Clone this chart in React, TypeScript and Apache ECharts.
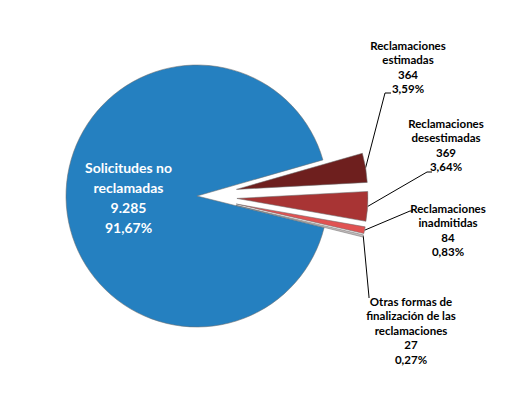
import React, { useEffect, useRef } from "react";
import * as echarts from "echarts";

const categories = [
  "Reclamaciones\nestimadas",
  "Reclamaciones\ndesestimadas",
  "Reclamaciones\ninadmitidas",
  "Otras formas de\nfinalización de las\nreclamaciones",
  "Solicitudes no\nreclamadas",
];
const values = [364, 369, 84, 27, 9285];
const colors = ["#6E1F1E", "#A83434", "#E05252", "#C4BCBC", "#2580C0"];
const exploded = [true, true, true, true, false];

// label placement (centre of text block) and leader-line bend/end points
const labelCenters: number[][] = [
  [408, 67],
  [446, 145],
  [448, 230],
  [411, 330],
];
const leaderPoints: number[][][] = [
  [[385, 93], [391, 93]],
  [[427, 172], [432, 172]],
  [[410, 211], [413, 211]],
  [[369, 297], [369, 298]],
];

const CENTER = [197, 196];
const RADIUS = 131;
const OFFSET = 40;

function fmtInt(v: number) {
  return String(v).replace(/\B(?=(\d{3})+(?!\d))/g, ".");
}
function fmtPct(v: number, total: number) {
  return ((v / total) * 100).toFixed(2).replace(".", ",") + "%";
}

export default function App() {
  const ref = useRef<HTMLDivElement>(null);
  useEffect(() => {
    if (!ref.current) return;
    const chart = echarts.init(ref.current, undefined, { renderer: "svg" });
    const total = values.reduce((a, b) => a + b, 0);
    const data = values.map((v, i) => ({
      name: categories[i],
      value: v,
      selected: exploded[i],
      itemStyle: { color: colors[i] },
      label: { show: i === 4 },
      labelLine: { show: false },
    }));
    chart.setOption({
      animation: false,
      series: [
        {
          type: "pie",
          center: CENTER,
          radius: RADIUS,
          startAngle: 16,
          clockwise: true,
          selectedMode: "multiple",
          selectedOffset: OFFSET,
          avoidLabelOverlap: false,
          emphasis: { disabled: true },
          itemStyle: {
            borderColor: "rgba(110,110,110,0.55)",
            borderWidth: 1,
          },
          label: {
            position: "inside",
            fontFamily: "Lato",
            color: "#fff",
            fontSize: 14,
            fontWeight: "bold",
            lineHeight: 20,
            align: "center",
            formatter: (p: any) =>
              `${p.name}\n${fmtInt(p.value)}\n${p.percent
                .toFixed(2)
                .replace(".", ",")}%`,
          },
          data,
        },
      ],
    });

    // leader lines + labels for exploded slices, anchored on the library's slice layout
    const seriesData = (chart as any).getModel().getSeriesByIndex(0).getData();
    const graphics: any[] = [];
    for (let i = 0; i < 4; i++) {
      const lay = seriesData.getItemLayout(i);
      const mid = (lay.startAngle + lay.endAngle) / 2;
      const rr = lay.r + OFFSET;
      const start = [lay.cx + rr * Math.cos(mid), lay.cy + rr * Math.sin(mid)];
      graphics.push({
        type: "polyline",
        silent: true,
        shape: { points: [start, leaderPoints[i][0], leaderPoints[i][1]] },
        style: { stroke: "#000", lineWidth: 1, fill: null },
      });
      graphics.push({
        type: "text",
        silent: true,
        x: labelCenters[i][0],
        y: labelCenters[i][1],
        style: {
          text: `${categories[i]}\n${fmtInt(values[i])}\n${fmtPct(values[i], total)}`,
          fontFamily: "Lato",
          fontSize: 11.5,
          fontWeight: "bold",
          lineHeight: 14.5,
          fill: "#000",
          align: "center",
          verticalAlign: "middle",
        },
      });
    }
    chart.setOption({ graphic: graphics });
    return () => chart.dispose();
  }, []);
  return (
    <div
      ref={ref}
      style={{ position: "fixed", left: 0, top: 0, width: 519, height: 399, background: "#fff" }}
    />
  );
}
